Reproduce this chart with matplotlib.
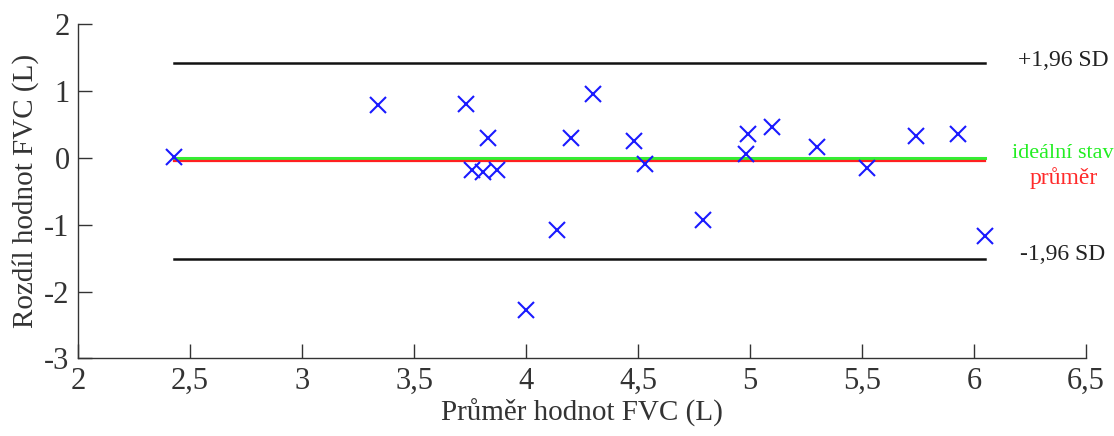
import matplotlib
matplotlib.use("Agg")
import matplotlib.pyplot as plt

# Bland-Altman data
prumer = [2.43, 3.34, 3.73, 3.83, 3.76, 3.81, 3.87, 4.00, 4.14, 4.20, 4.30,
          4.48, 4.53, 4.79, 4.98, 4.99, 5.10, 5.30, 5.52, 5.74, 5.93, 6.05]
rozdil = [0.01, 0.79, 0.81, 0.29, -0.18, -0.21, -0.18, -2.27, -1.08, 0.30, 0.96,
          0.25, -0.10, -0.93, 0.05, 0.35, 0.46, 0.16, -0.15, 0.32, 0.35, -1.17]

mean_diff = -0.05
upper_loa = 1.42
lower_loa = -1.52
ideal = 0.0

xticks = [2, 2.5, 3, 3.5, 4, 4.5, 5, 5.5, 6, 6.5]
yticks = [-3, -2, -1, 0, 1, 2]

plt.rcParams['font.family'] = ['Liberation Serif', 'DejaVu Serif']

fig = plt.figure(figsize=(11.14, 4.36), dpi=100)
ax = fig.add_axes([0.070, 0.178, 0.905, 0.767])

x0, x1 = min(prumer), max(prumer)
ax.plot([x0, x1], [upper_loa, upper_loa], color='#111111', lw=1.8)
ax.plot([x0, x1], [lower_loa, lower_loa], color='#111111', lw=1.8)
ax.plot([x0, x1], [ideal, ideal], color='#33ee33', lw=2.2)
ax.plot([x0, x1], [mean_diff, mean_diff], color='#ff2020', lw=1.6)
ax.plot(prumer, rozdil, 'x', color='#1a1aff', ms=11, mew=1.5)

ax.set_xlim(2, 6.5)
ax.set_ylim(-3, 2)
ax.set_xticks(xticks)
ax.set_xticklabels([str(t).replace('.', ',') for t in xticks])
ax.set_yticks(yticks)
ax.set_yticklabels([str(t) for t in yticks])

for s in ['top', 'right']:
    ax.spines[s].set_visible(False)
for s in ['left', 'bottom']:
    ax.spines[s].set_color('#333333')
    ax.spines[s].set_linewidth(1.0)
ax.tick_params(direction='in', length=10, width=1.0, colors='#333333',
               labelsize=22, pad=6)

ax.set_xlabel('Průměr hodnot FVC (L)', fontsize=21, color='#333333', labelpad=2)
ax.set_ylabel('Rozdíl hodnot FVC (L)', fontsize=21, color='#333333', labelpad=4)

ax.text(6.196, upper_loa + 0.04, '+1,96 SD', fontsize=17, color='#222222', va='center', ha='left')
ax.text(6.205, lower_loa + 0.07, '-1,96 SD', fontsize=17, color='#222222', va='center', ha='left')
ax.text(6.17, ideal + 0.07, 'ideální stav', fontsize=16, color='#22ee22', va='center', ha='left')
ax.text(6.40, mean_diff - 0.25, 'průměr', fontsize=17, color='#ff2a2a', va='center', ha='center')

for t in ax.texts:
    t.set_clip_on(False)

fig.savefig('out.png', dpi=100)
